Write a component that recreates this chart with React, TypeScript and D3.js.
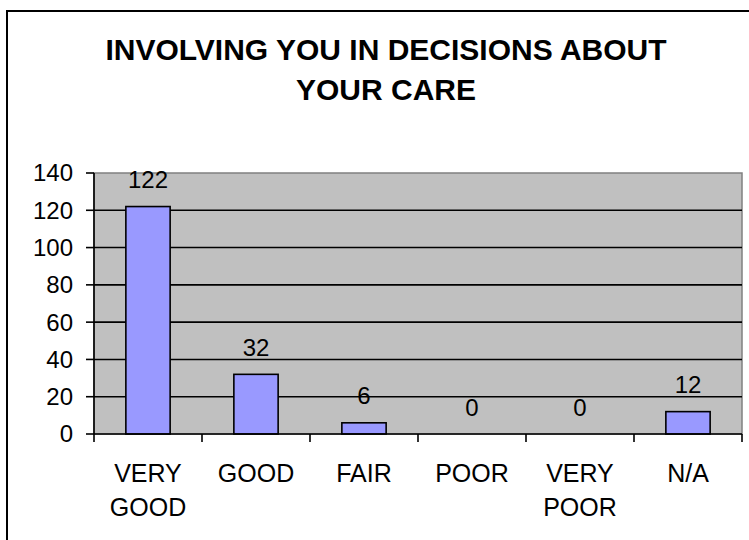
import React from "react";
import * as d3 from "d3";

const categories: string[][] = [["VERY", "GOOD"], ["GOOD"], ["FAIR"], ["POOR"], ["VERY", "POOR"], ["N/A"]];
const values: number[] = [122, 32, 6, 0, 0, 12];
const yTicks: number[] = [0, 20, 40, 60, 80, 100, 120, 140];
const titleLines: string[] = ["INVOLVING YOU IN DECISIONS ABOUT", "YOUR CARE"];

const W = 749;
const H = 540;
const plot = { left: 94, right: 742, top: 173, bottom: 434 };
const FONT = "Arial, 'Liberation Sans', Helvetica, sans-serif";

export default function App() {
  const keys = categories.map((_, i) => String(i));
  const x = d3
    .scaleBand<string>()
    .domain(keys)
    .range([plot.left, plot.right])
    .paddingInner(0.59)
    .paddingOuter(0.295);
  const step = x.step();
  const y = d3.scaleLinear().domain([0, 140]).range([plot.bottom, plot.top]);

  return (
    <svg
      width={W}
      height={H}
      style={{ position: "absolute", left: 0, top: 0, background: "#fff" }}
      fontFamily={FONT}
    >
      {/* outer frame */}
      <rect x={7} y={11} width={W + 20} height={H + 20} fill="#fff" stroke="#000" strokeWidth={2} />

      {/* title */}
      {titleLines.map((t, i) => (
        <text
          key={t}
          x={386}
          y={60 + i * 40}
          textAnchor="middle"
          fontSize={30}
          fontWeight="bold"
          fill="#000"
        >
          {t}
        </text>
      ))}

      {/* plot area */}
      <rect
        x={plot.left}
        y={plot.top}
        width={plot.right - plot.left}
        height={plot.bottom - plot.top}
        fill="#C0C0C0"
        stroke="#808080"
        strokeWidth={1.5}
      />

      {/* gridlines */}
      {yTicks
        .filter((t) => t > 0 && t < 140)
        .map((t) => (
          <line
            key={"g" + t}
            x1={plot.left}
            x2={plot.right}
            y1={y(t)}
            y2={y(t)}
            stroke="#000"
            strokeWidth={1.6}
          />
        ))}

      {/* bars */}
      {values.map((v, i) => (
        <rect
          key={"b" + i}
          x={x(String(i))}
          y={y(v)}
          width={x.bandwidth()}
          height={plot.bottom - y(v)}
          fill="#9999FF"
          stroke="#000"
          strokeWidth={1.6}
          style={{ display: v > 0 ? undefined : "none" }}
        />
      ))}

      {/* value labels */}
      {values.map((v, i) => (
        <text
          key={"v" + i}
          x={(x(String(i)) as number) + x.bandwidth() / 2}
          y={y(v) - 18.5}
          textAnchor="middle"
          fontSize={24}
          fill="#000"
        >
          {v}
        </text>
      ))}

      {/* y axis */}
      <line x1={plot.left} x2={plot.left} y1={plot.top} y2={plot.bottom} stroke="#000" strokeWidth={1.6} />
      {yTicks.map((t) => (
        <g key={"y" + t}>
          <line x1={plot.left - 8} x2={plot.left} y1={y(t)} y2={y(t)} stroke="#000" strokeWidth={1.6} />
          <text x={73} y={y(t)} dy="0.35em" textAnchor="end" fontSize={24} fill="#000">
            {t}
          </text>
        </g>
      ))}

      {/* x axis */}
      <line x1={plot.left} x2={plot.right} y1={plot.bottom} y2={plot.bottom} stroke="#000" strokeWidth={1.6} />
      {d3.range(categories.length + 1).map((i) => (
        <line
          key={"xt" + i}
          x1={plot.left + i * step}
          x2={plot.left + i * step}
          y1={plot.bottom}
          y2={plot.bottom + 8}
          stroke="#000"
          strokeWidth={1.6}
        />
      ))}
      {categories.map((lines, i) => (
        <text
          key={"c" + i}
          x={(x(String(i)) as number) + x.bandwidth() / 2}
          textAnchor="middle"
          fontSize={25}
          fill="#000"
        >
          {lines.map((l, j) => (
            <tspan key={j} x={(x(String(i)) as number) + x.bandwidth() / 2} y={482 + j * 34}>
              {l}
            </tspan>
          ))}
        </text>
      ))}
    </svg>
  );
}
